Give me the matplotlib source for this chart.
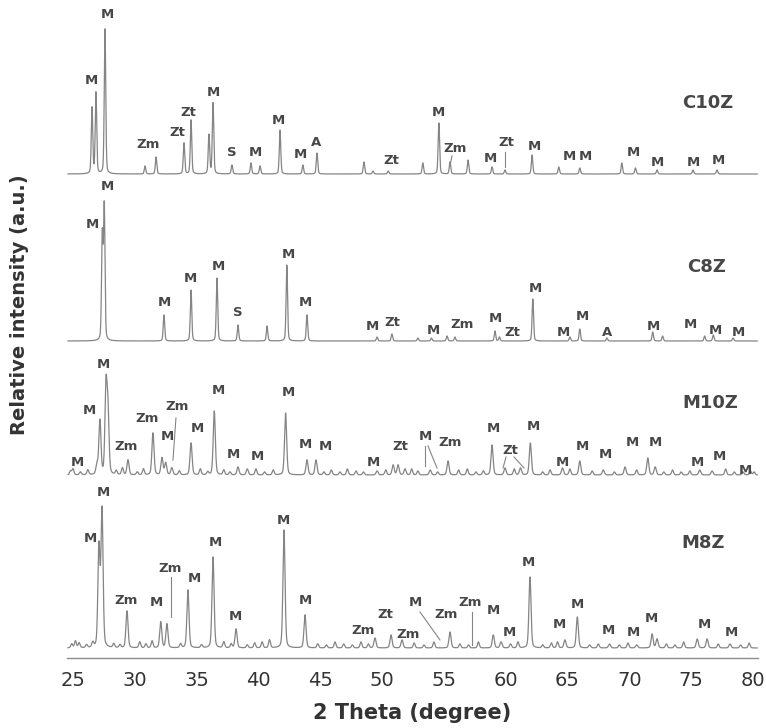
import numpy as np
import matplotlib
matplotlib.use('Agg')
import matplotlib.pyplot as plt

# ---- data (2 theta in degree, intensity in a.u.) ----
# baseline level of every pattern in the stacked plot
c10z_base = 484
c8z_base = 317
m10z_base = 183
m8z_base = 10

c10z_pos = [26.54, 26.86, 27.59, 30.83, 31.72, 33.98, 34.55, 36.0, 36.33, 37.86,
            39.4, 40.13, 41.75, 43.6, 44.74, 48.54, 49.27, 50.5, 53.3, 54.6,
            55.5, 56.96, 58.9, 59.95, 62.14, 64.3, 66.0, 69.4, 70.5, 72.25,
            75.16, 77.1]
c10z_h = [66, 81, 145, 8, 17, 31, 54, 39, 71, 9,
          11, 8, 44, 9, 21, 12, 3, 3, 11, 51,
          12, 14, 7, 4, 19, 7, 6, 11, 6, 4,
          4, 4]

c8z_pos = [27.37, 27.53, 32.36, 34.55, 36.65, 38.35, 40.7, 42.3, 43.93, 49.6,
           50.8, 52.9, 54.0, 55.26, 55.9, 59.14, 59.5, 62.2, 65.2, 66.0,
           68.2, 71.9, 72.7, 76.1, 76.8, 78.4]
c8z_h = [104, 133, 26, 51, 63, 16, 15, 76, 26, 4,
         7, 3, 3, 5, 4, 10, 4, 42, 4, 12,
         3, 9, 5, 5, 6, 3]

m10z_pos = [26.94, 27.18, 27.67, 27.83, 29.45, 31.47, 32.2, 32.5, 33.0, 34.55,
            36.43, 38.35, 39.1, 42.2, 43.93, 44.66, 49.6, 50.9, 51.3, 51.86,
            53.9, 55.34, 58.9, 59.95, 61.2, 62.0, 64.6, 66.0, 67.9, 69.66,
            71.5, 72.1, 75.7, 76.7, 79.2]
m10z_h = [9, 54, 86, 60, 15, 42, 17, 12, 7, 32,
          64, 8, 6, 62, 15, 15, 4, 10, 10, 6,
          5, 14, 30, 7, 7, 32, 7, 14, 5, 8,
          17, 8, 5, 4, 3]
# small wiggles of the noisy baseline
m10z_noise_pos = [24.8, 25.0, 25.6, 26.2, 28.5, 29.0, 30.2, 30.7, 33.6, 35.3, 35.9,
                  37.2, 37.7, 39.8, 40.5, 41.2, 45.3, 45.9, 46.6, 47.2, 47.9,
                  48.5, 50.3, 52.4, 52.9, 54.5, 56.2, 56.9, 57.6, 58.2, 60.7,
                  63.0, 63.6, 65.2, 67.0, 68.8, 70.6, 72.8, 73.5, 74.2, 74.9,
                  77.8, 78.5, 79.8, 80.1]
m10z_noise_h = [4, 6, 3, 5, 4, 7, 3, 6, 4, 6, 3,
                5, 3, 6, 3, 5, 3, 5, 3, 6, 4,
                3, 5, 6, 4, 3, 5, 6, 3, 4, 6,
                3, 5, 6, 4, 3, 5, 3, 5, 3, 4,
                6, 3, 4, 3]

m8z_pos = [27.1, 27.35, 29.37, 32.1, 32.6, 34.3, 36.33, 38.19, 42.07, 43.77,
           49.43, 50.73, 51.62, 55.5, 59.0, 59.63, 61.97, 64.8, 65.8, 66.8,
           68.4, 70.6, 71.85, 72.25, 75.5, 76.3, 78.15]
m8z_h = [100, 137, 37, 26, 24, 58, 91, 19, 118, 33,
         10, 13, 8, 16, 13, 6, 71, 8, 31, 3,
         4, 3, 14, 9, 9, 9, 4]
m8z_noise_pos = [24.9, 25.2, 25.5, 26.1, 26.6, 28.3, 28.8, 30.4, 30.9, 31.4, 33.7,
                 35.4, 37.2, 37.8, 39.1, 39.7, 40.3, 40.9, 44.8, 45.5, 46.2,
                 46.9, 47.6, 48.3, 48.9, 52.6, 53.4, 54.2, 56.3, 57.0, 57.8,
                 60.4, 61.0, 63.0, 63.7, 64.2, 67.5, 69.2, 69.9, 73.0, 73.7,
                 74.4, 77.2, 79.0, 79.7]
m8z_noise_h = [4, 7, 5, 3, 5, 4, 3, 6, 4, 7, 4,
               3, 6, 4, 3, 5, 6, 8, 4, 3, 6,
               4, 3, 6, 4, 5, 3, 6, 4, 3, 6,
               4, 6, 3, 5, 6, 4, 3, 5, 4, 3,
               6, 4, 3, 5]

# phase labels: (2 theta, height, text)
c10z_labels = [(27.75, 643, 'M'), (26.46, 578, 'M'), (31.07, 513, 'Zm'), (33.41, 526, 'Zt'),
               (34.3, 546, 'Zt'), (36.33, 565, 'M'), (37.86, 505, 'S'), (39.72, 506, 'M'),
               (41.59, 538, 'M'), (43.37, 503, 'M'), (44.66, 516, 'A'), (50.73, 498, 'Zt'),
               (54.53, 545, 'M'), (55.91, 510, 'Zm'), (58.74, 499, 'M'), (60.03, 515, 'Zt'),
               (62.3, 511, 'M'), (65.13, 501, 'M'), (66.42, 501, 'M'), (70.31, 505, 'M'),
               (72.25, 495, 'M'), (75.16, 495, 'M'), (77.18, 498, 'M')]
c8z_labels = [(27.75, 472, 'M'), (26.54, 433, 'M'), (32.36, 355, 'M'), (34.47, 379, 'M'),
              (36.73, 392, 'M'), (38.35, 346, 'S'), (42.39, 403, 'M'), (43.77, 355, 'M'),
              (49.19, 332, 'M'), (50.81, 335, 'Zt'), (54.13, 328, 'M'), (56.47, 333, 'Zm'),
              (59.14, 340, 'M'), (60.52, 326, 'Zt'), (62.38, 370, 'M'), (64.64, 325, 'M'),
              (66.18, 341, 'M'), (68.2, 325, 'A'), (71.93, 331, 'M'), (74.92, 333, 'M'),
              (76.94, 328, 'M'), (78.8, 325, 'M')]
m10z_labels = [(25.32, 195, 'M'), (26.29, 248, 'M'), (27.43, 293, 'M'), (29.29, 211, 'Zm'),
               (30.99, 240, 'Zm'), (33.41, 251, 'Zm'), (32.61, 221, 'M'), (35.03, 229, 'M'),
               (36.73, 268, 'M'), (37.94, 203, 'M'), (39.89, 201, 'M'), (42.39, 265, 'M'),
               (43.77, 213, 'M'), (45.39, 212, 'M'), (49.27, 195, 'M'), (51.46, 211, 'Zt'),
               (53.48, 221, 'M'), (55.5, 215, 'Zm'), (58.98, 230, 'M'), (60.36, 208, 'Zt'),
               (62.22, 231, 'M'), (64.56, 195, 'M'), (66.18, 211, 'M'), (68.04, 203, 'M'),
               (70.23, 215, 'M'), (72.09, 216, 'M'), (75.49, 195, 'M'), (77.27, 201, 'M'),
               (79.37, 188, 'M')]
m8z_labels = [(27.43, 165, 'M'), (26.38, 120, 'M'), (29.29, 58, 'Zm'), (31.72, 56, 'M'),
              (32.85, 90, 'Zm'), (34.79, 79, 'M'), (36.49, 115, 'M'), (38.11, 42, 'M'),
              (41.99, 138, 'M'), (43.77, 58, 'M'), (48.46, 28, 'Zm'), (50.24, 43, 'Zt'),
              (52.1, 24, 'Zm'), (52.67, 55, 'M'), (55.18, 43, 'Zm'), (57.12, 55, 'Zm'),
              (58.98, 48, 'M'), (60.28, 25, 'M'), (61.81, 95, 'M'), (64.32, 33, 'M'),
              (65.78, 53, 'M'), (68.28, 28, 'M'), (70.31, 25, 'M'), (71.76, 39, 'M'),
              (76.05, 33, 'M'), (78.24, 25, 'M')]

# leader lines from labels to peaks: (x1, y1, x2, y2)
leaders = [(59.95, 506, 59.95, 491), (55.66, 502, 55.5, 492),
           (33.33, 240, 33.09, 198), (53.48, 212, 53.48, 192), (53.72, 212, 54.45, 190),
           (60.03, 201, 59.79, 190), (60.68, 201, 61.49, 190),
           (32.93, 81, 32.93, 41), (53.07, 46, 54.69, 18), (57.28, 46, 57.28, 13)]

sample_names = ['C10Z', 'C8Z', 'M10Z', 'M8Z']
sample_name_pos = [(76.38, 555), (76.29, 391), (76.54, 255), (75.97, 115)]

x_ticks = [25, 30, 35, 40, 45, 50, 55, 60, 65, 70, 75, 80]


def pattern(x, pos, h, w):
    y = np.zeros_like(x)
    for p, a in zip(pos, h):
        d = (x - p) / w
        y += a * (0.7 * np.exp(-np.log(2) * d ** 2) + 0.3 / (1 + d ** 2))
    return y


x = np.linspace(24.6, 80.35, 6000)

fig = plt.figure(figsize=(7.66, 7.28), dpi=100)
ax = fig.add_axes([66.8 / 766, 70 / 728, 691 / 766, 658 / 728])

line_col = '#858585'
text_col = '#474747'

traces = [
    (c10z_base, pattern(x, c10z_pos, c10z_h, 0.07)),
    (c8z_base, pattern(x, c8z_pos, c8z_h, 0.07)),
    (m10z_base, pattern(x, m10z_pos, m10z_h, 0.1) + pattern(x, m10z_noise_pos, m10z_noise_h, 0.09)),
    (m8z_base, pattern(x, m8z_pos, m8z_h, 0.1) + pattern(x, m8z_noise_pos, m8z_noise_h, 0.09)),
]
for base, y in traces:
    ax.plot(x, base + y, color=line_col, lw=0.9)

for labels in [c10z_labels, c8z_labels, m10z_labels, m8z_labels]:
    for lx, ly, txt in labels:
        ax.text(lx, ly, txt, ha='center', va='center', fontsize=9.5,
                fontweight='bold', color=text_col)

for x1, y1, x2, y2 in leaders:
    ax.plot([x1, x2], [y1, y2], color=line_col, lw=0.8)

for name, (nx, ny) in zip(sample_names, sample_name_pos):
    ax.text(nx, ny, name, ha='center', va='center', fontsize=13,
            fontweight='bold', color=text_col)

ax.set_xlim(24.5, 80.4)
ax.set_ylim(0, 658)
ax.set_xticks(x_ticks)
ax.set_yticks([])
ax.tick_params(axis='x', length=0, pad=9, labelsize=14, labelcolor='#333333')
for s in ['left', 'right', 'top']:
    ax.spines[s].set_visible(False)
ax.spines['bottom'].set_color('#8c8c8c')
ax.spines['bottom'].set_linewidth(1.0)
ax.patch.set_alpha(0)

ax.set_xlabel('2 Theta (degree)', fontsize=15, fontweight='bold',
              color='#333333', labelpad=10)
fig.text(20 / 766, 1 - 305 / 728, 'Relative intensity (a.u.)', rotation=90,
         ha='center', va='center', fontsize=14, fontweight='bold', color='#333333')

fig.savefig('out.png', dpi=100)
